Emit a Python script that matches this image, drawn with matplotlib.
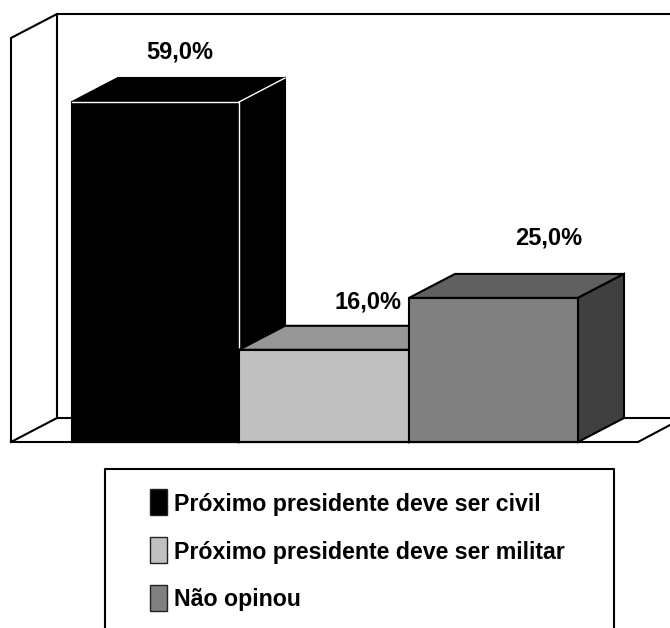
#!/usr/bin/env python
import matplotlib
matplotlib.use("Agg")
import matplotlib.pyplot as plt
from matplotlib.patches import Polygon, Rectangle

categories = ["Próximo presidente deve ser civil",
              "Próximo presidente deve ser militar",
              "Não opinou"]
values = [59.0, 16.0, 25.0]
front = ["#000000", "#c0c0c0", "#808080"]
top = ["#000000", "#969696", "#606060"]
side = ["#000000", "#808080", "#404040"]

W, H = 670, 628
fig = plt.figure(figsize=(W / 100, H / 100), dpi=100)
ax = fig.add_axes([0, 0, 1, 1])
ax.set_xlim(0, W)
ax.set_ylim(H, 0)
ax.axis("off")
plt.rcParams["font.family"] = "Liberation Sans"

LW = 1.5
dx, dy = 46, 24
x0, y0 = 11, 442
x1 = 638
ytop = 38


def frame_line(xs, ys):
    ax.plot(xs, ys, color="k", lw=LW, zorder=1, solid_joinstyle="miter")


# walls and floor go behind the bars
frame_line([x0, x0, x0 + dx, W], [y0, ytop, ytop - dy, ytop - dy])
frame_line([x0 + dx, x0 + dx], [ytop - dy, y0 - dy])
frame_line([x0, x0 + dx, W], [y0, y0 - dy, y0 - dy])
frame_line([x0, x1, W], [y0, y0, y0 - 17])

# bars
scale = (y0 - 102) / 59.0
bar_x = [72, 239, 409, 578]
for i, v in enumerate(values):
    l, r = bar_x[i], bar_x[i + 1]
    t = y0 - v * scale
    d = dict(edgecolor="k", lw=LW, joinstyle="miter", zorder=2 + i)
    ax.add_patch(Polygon([(l, t), (l + dx, t - dy), (r + dx, t - dy), (r, t)], facecolor=top[i], **d))
    ax.add_patch(Polygon([(r, t), (r + dx, t - dy), (r + dx, y0 - dy), (r, y0)], facecolor=side[i], **d))
    ax.add_patch(Rectangle((l, t), r - l, y0 - t, facecolor=front[i], **d))
    if i == 0:
        # the black bar only shows its edges as thin white lines
        ax.plot([l, r, r], [t, t, y0], color="w", lw=1.0, zorder=2.5)
        ax.plot([r, r + dx], [t, t - dy], color="w", lw=1.0, zorder=2.5)

ax.plot([bar_x[0], bar_x[3]], [y0, y0], color="k", lw=LW, zorder=6)

# value labels
label_pos = [(180, 58), (368, 308), (549, 244)]
for v, (x, y) in zip(values, label_pos):
    ax.text(x, y, f"{v:.1f}%".replace(".", ","), ha="center", va="baseline",
            fontsize=17, fontweight="bold", zorder=7)

# legend box, cut by the bottom of the picture
ax.plot([105, 105, 614, 614], [H, 469, 469, H], color="k", lw=LW)
leg_y = [511, 559, 606]
leg_box = [489, 537, 585]
for name, c, y, by in zip(categories, front, leg_y, leg_box):
    ax.add_patch(Rectangle((150, by), 17, 26, facecolor=c, edgecolor="#222222", lw=1.0))
    ax.text(174, y, name, ha="left", va="baseline", fontsize=16.7, fontweight="bold")

fig.savefig("out.png", dpi=100)
